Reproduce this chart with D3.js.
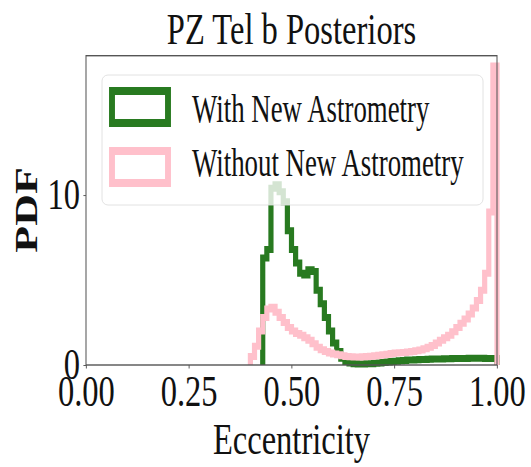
<!DOCTYPE html>
<html>
<head>
<meta charset="utf-8">
<script src="https://cdn.jsdelivr.net/npm/d3@7"></script>
<style>
  body { margin: 0; background: #fff; }
  text { font-family: "Liberation Serif", "DejaVu Serif", serif; fill: #111; }
</style>
</head>
<body>
<div id="chart"></div>
<script>
// histogram bins of eccentricity, width 0.01, starting at 0.40
const binStart = 0.40;
const binWidth = 0.01;

const withNew = [
  0, 0, 0, 6.3, 6.8, 10.4, 10.6, 10.2, 9.6, 7.9,
  6.8, 6.0, 5.4, 5.3, 5.6, 5.5, 4.4, 3.6, 2.8, 2.0,
  1.3, 0.8, 0.4, 0.2, 0.12, 0.08, 0.06, 0.06, 0.07, 0.08,
  0.1, 0.12, 0.15, 0.18, 0.2, 0.22, 0.25, 0.27, 0.29, 0.3,
  0.31, 0.32, 0.33, 0.34, 0.35, 0.35, 0.36, 0.37, 0.37, 0.38,
  0.38, 0.38, 0.38, 0.39, 0.39, 0.39, 0.39, 0.38, 0.38, 0.38
];

const withoutNew = [
  0.5, 1.1, 2.0, 2.8, 3.3, 3.4, 3.1, 2.8, 2.5, 2.2,
  2.0, 1.85, 1.75, 1.6, 1.45, 1.25, 1.05, 0.9, 0.8, 0.7,
  0.65, 0.6, 0.55, 0.5, 0.48, 0.47, 0.47, 0.48, 0.5, 0.52,
  0.55, 0.58, 0.6, 0.63, 0.67, 0.7, 0.72, 0.74, 0.77, 0.8,
  0.84, 0.88, 0.95, 1.05, 1.15, 1.3, 1.45, 1.6, 1.75, 1.95,
  2.2, 2.45, 2.7, 3.0, 3.35, 3.8, 4.4, 5.4, 9.0, 17.6
];

const seriesNames = ["With New Astrometry", "Without New Astrometry"];
const seriesColors = ["#287a20", "pink"];
const xTicks = [0, 0.25, 0.5, 0.75, 1.0];
const yTicks = [0, 10];

// the picture is squeezed sideways, so everything is drawn in a compressed group
const S = 0.74;
const W = 531, H = 467;

const svg = d3.select("#chart").append("svg").attr("width", W).attr("height", H);
const g = svg.append("g").attr("transform", `scale(${S},1)`);

const x = d3.scaleLinear().domain([0, 1]).range([86 / S, 497 / S]);
const y = d3.scaleLinear().domain([0, 18.2]).range([365, 55.7]);

function stepPoints(vals) {
  let first = vals.findIndex((v) => v > 0);
  const pts = [[binStart + first * binWidth, 0]];
  for (let i = first; i < vals.length; i++) {
    const e0 = binStart + i * binWidth;
    pts.push([e0, vals[i]]);
    pts.push([e0 + binWidth, vals[i]]);
  }
  pts.push([binStart + vals.length * binWidth, 0]);
  return pts;
}

const line = d3.line().x((d) => x(d[0])).y((d) => y(d[1]));

[withNew, withoutNew].forEach((vals, i) => {
  g.append("path")
    .attr("d", line(stepPoints(vals)))
    .attr("fill", "none")
    .attr("stroke", seriesColors[i])
    .attr("stroke-width", 7)
    .attr("stroke-linejoin", "miter");
});

// axes
const xAxis = g.append("g")
  .attr("transform", `translate(0,${y(0)})`)
  .call(d3.axisBottom(x).tickValues(xTicks).tickFormat(d3.format(".2f")).tickSize(3.5));
xAxis.select(".domain").remove();
xAxis.selectAll("line").attr("stroke", "#444");
xAxis.selectAll("text")
  .attr("y", 41).attr("dy", null)
  .style("font-size", "44px")
  .style("font-family", '"Liberation Serif", serif')
  .attr("fill", "#111");

const yAxis = g.append("g")
  .attr("transform", `translate(${x(0)},0)`)
  .call(d3.axisLeft(y).tickValues(yTicks).tickFormat(d3.format("d")).tickSize(3.5));
yAxis.select(".domain").remove();
yAxis.selectAll("line").attr("stroke", "#444");
yAxis.selectAll("text")
  .attr("x", -6 / S).attr("dy", "0.3em")
  .style("font-size", "44px")
  .style("font-family", '"Liberation Serif", serif')
  .attr("fill", "#111");

// frame
g.append("rect")
  .attr("x", x(0)).attr("y", y(18.2))
  .attr("width", x(1) - x(0)).attr("height", y(0) - y(18.2))
  .attr("fill", "none")
  .attr("stroke", "#555")
  .attr("stroke-width", 1.4);

// legend
const leg = g.append("g");
leg.append("rect")
  .attr("x", 102 / S).attr("y", 75)
  .attr("width", (483 - 102) / S).attr("height", 130)
  .attr("rx", 6 / S).attr("ry", 6)
  .attr("fill", "white").attr("fill-opacity", 0.8)
  .attr("stroke", "#ddd");

seriesNames.forEach((name, i) => {
  const top = 91 + i * 60;
  leg.append("rect")
    .attr("x", 112 / S).attr("y", top)
    .attr("width", (168 - 112) / S).attr("height", 32)
    .attr("fill", "none")
    .attr("stroke", seriesColors[i])
    .attr("stroke-width", 8);
  leg.append("text")
    .attr("x", 192 / S).attr("y", 122 + i * 54)
    .attr("transform", `translate(${192 / S},0) scale(0.93,1) translate(${-192 / S},0)`)
    .style("font-size", "39px")
    .text(name);
});

// titles
g.append("text")
  .attr("x", 291.5 / S).attr("y", 44)
  .attr("text-anchor", "middle")
  .style("font-size", "44px")
  .text("PZ Tel b Posteriors");

g.append("text")
  .attr("x", 291.5 / S).attr("y", 454)
  .attr("text-anchor", "middle")
  .style("font-size", "44px")
  .text("Eccentricity");

g.append("text")
  .attr("transform", `translate(${26 / S},210) rotate(-90)`)
  .attr("text-anchor", "middle")
  .attr("dy", "0.35em")
  .style("font-size", "44px")
  .style("font-weight", "bold")
  .text("PDF");
</script>
</body>
</html>
